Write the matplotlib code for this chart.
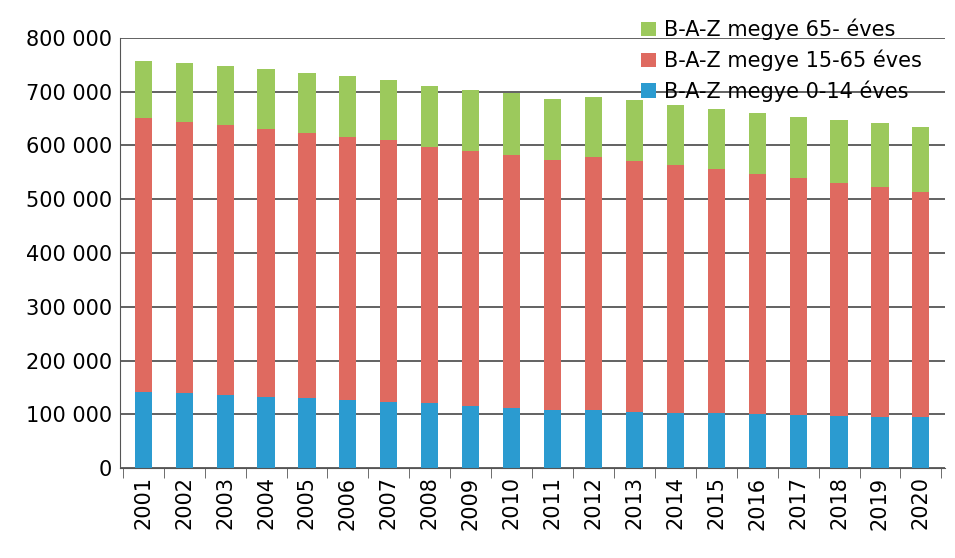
import numpy as np
from matplotlib import pyplot as plt

years = [str(y) for y in range(2001, 2021)]
total = [758, 753, 748, 742, 735, 729, 722, 711, 704, 697,
         686, 690, 685, 676, 667, 661, 653, 648, 641, 634]
upto65 = [651, 644, 638, 631, 623, 616, 610, 597, 590, 582,
          573, 579, 571, 564, 556, 547, 540, 530, 523, 514]
young = [141, 139, 136, 133, 131, 127, 123, 121, 115, 111,
         108, 108, 105, 103, 102, 100, 99, 97, 96, 95]

young = np.array(young) * 1000
middle = np.array(upto65) * 1000 - young
old = np.array(total) * 1000 - np.array(upto65) * 1000

fig = plt.figure(figsize=(9.55, 5.58), dpi=100)
ax = fig.add_axes([0.126, 0.161, 0.864, 0.771])
x = np.arange(len(years))
w = 0.42
ax.bar(x, young, w, color='#2b9bd0', label='B-A-Z megye 0-14 éves', zorder=2)
ax.bar(x, middle, w, bottom=young, color='#df6a60', label='B-A-Z megye 15-65 éves', zorder=2)
ax.bar(x, old, w, bottom=young + middle, color='#9cc95c', label='B-A-Z megye 65- éves', zorder=2)

ax.set_ylim(0, 800000)
ax.set_xlim(-0.56, 19.6)
ax.set_yticks(range(0, 800001, 100000))
ax.set_yticklabels(['0'] + ['{} 000'.format(v // 1000) for v in range(100000, 800001, 100000)])
ax.set_xticks(x)
ax.set_xticklabels(years, rotation=90)
ax.set_xticks(np.arange(-0.5, 20, 1), minor=True)
ax.tick_params(axis='x', which='major', length=0, labelsize=15, pad=6)
ax.tick_params(axis='x', which='minor', length=7, color='#555555')
ax.tick_params(axis='y', labelsize=15, length=0, pad=6)
ax.yaxis.grid(True, color='#555555', linewidth=1.3, zorder=0)
for s in ['top', 'right']:
    ax.spines[s].set_visible(False)
ax.spines['left'].set_color('#555555')
ax.spines['bottom'].set_color('#555555')

h, l = ax.get_legend_handles_labels()
ax.legend(h[::-1], l[::-1], loc='upper right', bbox_to_anchor=(0.985, 1.0),
          bbox_transform=fig.transFigure, frameon=False, fontsize=15,
          handlelength=0.7, handleheight=0.7, handletextpad=0.4, labelspacing=0.45)

plt.savefig('out.png')
